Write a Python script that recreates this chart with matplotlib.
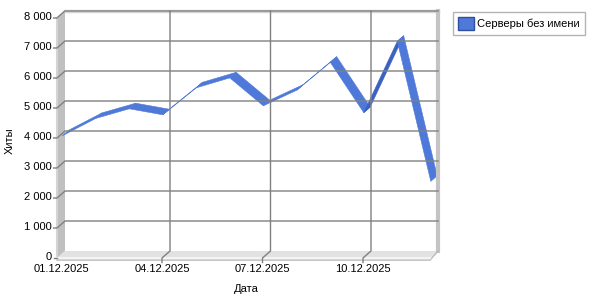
import numpy as np
import matplotlib.pyplot as plt
from matplotlib.transforms import ScaledTranslation, IdentityTransform
from matplotlib.patches import Polygon, Patch

plt.rcParams['font.family'] = ['Liberation Sans', 'DejaVu Sans']
plt.rcParams['font.size'] = 8

# data
dates = ["01.12.2025", "02.12.2025", "03.12.2025", "04.12.2025", "05.12.2025", "06.12.2025",
         "07.12.2025", "08.12.2025", "09.12.2025", "10.12.2025", "11.12.2025", "12.12.2025"]
hits = [4050, 4630, 4950, 4750, 5650, 5980, 5050, 5570, 6500, 4820, 7200, 2530]
x_tick_idx = [0, 3, 6, 9]
y_ticks = [0, 1000, 2000, 3000, 4000, 5000, 6000, 7000, 8000]
y_labels = ["0", "1 000", "2 000", "3 000", "4 000", "5 000", "6 000", "7 000", "8 000"]
series_name = "Серверы без имени"

fig = plt.figure(figsize=(6, 3), dpi=100)
ax = fig.add_axes([57 / 600, 42 / 300, 373 / 600, 240 / 300])
x = np.arange(1, len(hits) + 1)
xmin, xmax = 1 - 4.5 / 33.5, x[-1]
ymax = 8000
ax.set_xlim(xmin, xmax)
ax.set_ylim(0, ymax)
ax.axis('off')

# depth of the 3d box (inches at 100 dpi)
DX, DY = 0.08, 0.07


def depth(f):
    return ax.transData + ScaledTranslation(DX * f, DY * f, fig.dpi_scale_trans)


def pts(xy_f):
    # list of (x, y, depth) -> display coords
    return np.array([depth(f).transform((a, b)) for a, b, f in xy_f])


def poly(xy_f, **kw):
    p = Polygon(pts(xy_f), transform=IdentityTransform(), clip_on=False, **kw)
    ax.add_patch(p)


def line(xy_f, **kw):
    d = pts(xy_f)
    ax.add_line(plt.Line2D(d[:, 0], d[:, 1], transform=IdentityTransform(), clip_on=False, **kw))


# walls
poly([(xmin, 0, 0), (xmin, ymax, 0), (xmin, ymax, 1), (xmin, 0, 1)], facecolor='#c0c0c0', edgecolor='none')
poly([(xmin, 0, 0), (xmax, 0, 0), (xmax, 0, 1), (xmin, 0, 1)], facecolor='#e2e2e2', edgecolor='none')
line([(xmin, ymax, 1.05), (xmax, ymax, 1.05)], color='#d6d6d6', lw=2.5)
line([(xmax, 0, 1), (xmax, ymax, 1)], color='#c4c4c4', lw=3)
line([(xmin, ymax, 0), (xmin, ymax, 1)], color='#d8d8d8', lw=1.5)
line([(xmin, 0, 0), (xmin, ymax, 0)], color='#d4d4d4', lw=1.5)
line([(xmin, -70, 0), (xmax, -70, 0), (xmax, 0, 1)], color='#b8b8b8', lw=1)
line([(xmin, 0, 0), (xmax, 0, 0)], color='#f4f4f4', lw=1.5)

# gridlines and ticks
for v in y_ticks[1:]:
    line([(xmin - 0.1, v, 0), (xmin, v, 0), (xmin, v, 1), (xmax, v, 1)], color='#808080', lw=1)
line([(xmin - 0.1, 0, 0), (xmin, 0, 0)], color='#808080', lw=1)
for i in x_tick_idx[1:]:
    line([(x[i], -150, 0), (x[i], 0, 0), (x[i], 0, 1), (x[i], ymax, 1)], color='#808080', lw=1)

# ribbon
f0, f1 = 0.1, 0.9
for i in range(len(hits) - 1):
    a = pts([(x[i], hits[i], f0), (x[i + 1], hits[i + 1], f0), (x[i], hits[i], f1)])
    s = a[1] - a[0]
    d = a[2] - a[0]
    top = s[0] * d[1] - s[1] * d[0] > 0
    c = '#4f79d8' if top else '#3d61c1'
    poly([(x[i], hits[i], f0), (x[i + 1], hits[i + 1], f0),
          (x[i + 1], hits[i + 1], f1), (x[i], hits[i], f1)], facecolor=c, edgecolor=c, lw=0.4)

# labels
for v, lab in zip(y_ticks, y_labels):
    ax.text(xmin, v, lab, ha='right', va='center',
            transform=ax.transData + ScaledTranslation(-0.05, 0.005, fig.dpi_scale_trans))
for i in x_tick_idx:
    ax.text(x[i], 0, dates[i], ha='center', va='top',
            transform=ax.transData + ScaledTranslation(0, -0.06, fig.dpi_scale_trans))

fig.text(10 / 600, 1 - 141 / 300, "Хиты", rotation=90, ha='center', va='center')
fig.text(246 / 600, 1 - 289 / 300, "Дата", ha='center', va='center')

leg = fig.legend(handles=[Patch(facecolor='#4f79d8', edgecolor='#2e4e9e', label=series_name)],
                 loc='upper left', bbox_to_anchor=(453 / 600, 1 - 12 / 300), fancybox=False,
                 edgecolor='#a0a0a0', handlelength=1.4, handleheight=1.4, handletextpad=0.3,
                 borderpad=0.45, borderaxespad=0)
leg.get_frame().set_linewidth(1)

fig.savefig("out.png", dpi=100)
